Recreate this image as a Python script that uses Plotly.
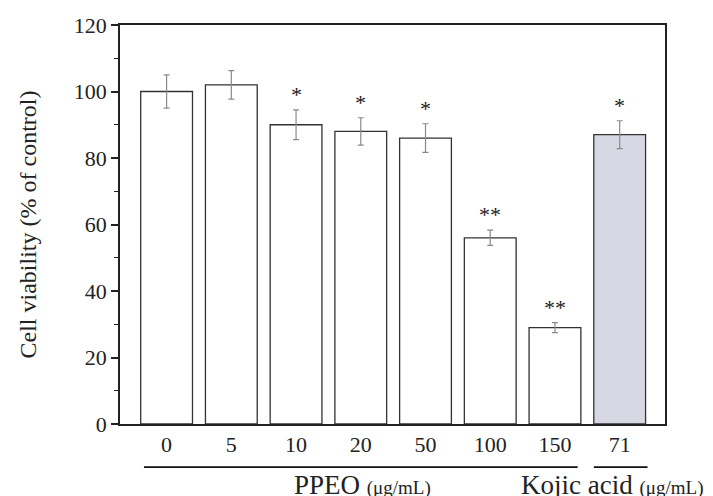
import plotly.graph_objects as go

categories = ["0", "5", "10", "20", "50", "100", "150", "71"]
viability = [100, 102, 90, 88, 86, 56, 29, 87]
errors = [5, 4.3, 4.5, 4.1, 4.3, 2.3, 1.5, 4.2]
significance = ["", "", "*", "*", "*", "**", "**", "*"]
fill_colors = ["white"] * 7 + ["#d8d8e4"]
y_ticks = [0, 20, 40, 60, 80, 100, 120]

FONT = "Liberation Serif, Times New Roman, serif"
x_idx = list(range(len(categories)))

fig = go.Figure()
fig.add_trace(go.Bar(
    x=x_idx, y=viability,
    width=0.8,
    marker=dict(color=fill_colors, line=dict(color="#333333", width=1.3)),
    error_y=dict(type="data", array=errors, visible=True,
                 color="#8a8a8a", thickness=1.2, width=3),
    showlegend=False,
))

for i, (v, e, s) in enumerate(zip(viability, errors, significance)):
    if s:
        fig.add_annotation(x=i, y=v + e, text=s, showarrow=False,
                           yanchor="bottom", yshift=1,
                           font=dict(family=FONT, size=22, color="#222"))

# group lines and labels below axis
fig.add_shape(type="line", xref="x", yref="paper", x0=-0.35, x1=6.35, y0=-0.108, y1=-0.108,
              line=dict(color="#111", width=1.8))
fig.add_shape(type="line", xref="x", yref="paper", x0=6.6, x1=7.43, y0=-0.108, y1=-0.108,
              line=dict(color="#111", width=1.8))
fig.add_annotation(x=3.02, y=-0.111, xref="x", yref="paper", showarrow=False, yanchor="top",
                   text="PPEO <span style='font-size:19px'>(μg/mL)</span>",
                   font=dict(family=FONT, size=27, color="#222"))
fig.add_annotation(x=6.88, y=-0.111, xref="x", yref="paper", showarrow=False, yanchor="top",
                   text="Kojic acid <span style='font-size:19px'>(μg/mL)</span>",
                   font=dict(family=FONT, size=27, color="#222"))

fig.update_layout(
    width=705, height=488,
    margin=dict(l=112, r=48, t=17, b=72, autoexpand=False),
    plot_bgcolor="white", paper_bgcolor="white",
    font=dict(family=FONT, size=22, color="#222"),
    bargap=0.2,
    xaxis=dict(
        range=[-0.72, 7.70],
        tickmode="array", tickvals=x_idx, ticktext=categories,
        showline=True, linecolor="#222", linewidth=1.6, mirror=True,
        ticks="", showgrid=False, zeroline=False,
        tickfont=dict(family=FONT, size=22, color="#222"),
    ),
    yaxis=dict(
        range=[0, 120],
        tickmode="array", tickvals=y_ticks,
        showline=True, linecolor="#222", linewidth=1.6, mirror=True,
        ticks="outside", ticklen=7, tickwidth=1.5, tickcolor="#222",
        minor=dict(dtick=10, ticks="outside", ticklen=4, tickwidth=1.2, tickcolor="#222", showgrid=False),
        showgrid=False, zeroline=False,
        tickfont=dict(family=FONT, size=22, color="#222"),
        title=dict(text="Cell viability (% of control)", standoff=30,
                   font=dict(family=FONT, size=24, color="#222")),
    ),
)

fig.write_html("out.html")
